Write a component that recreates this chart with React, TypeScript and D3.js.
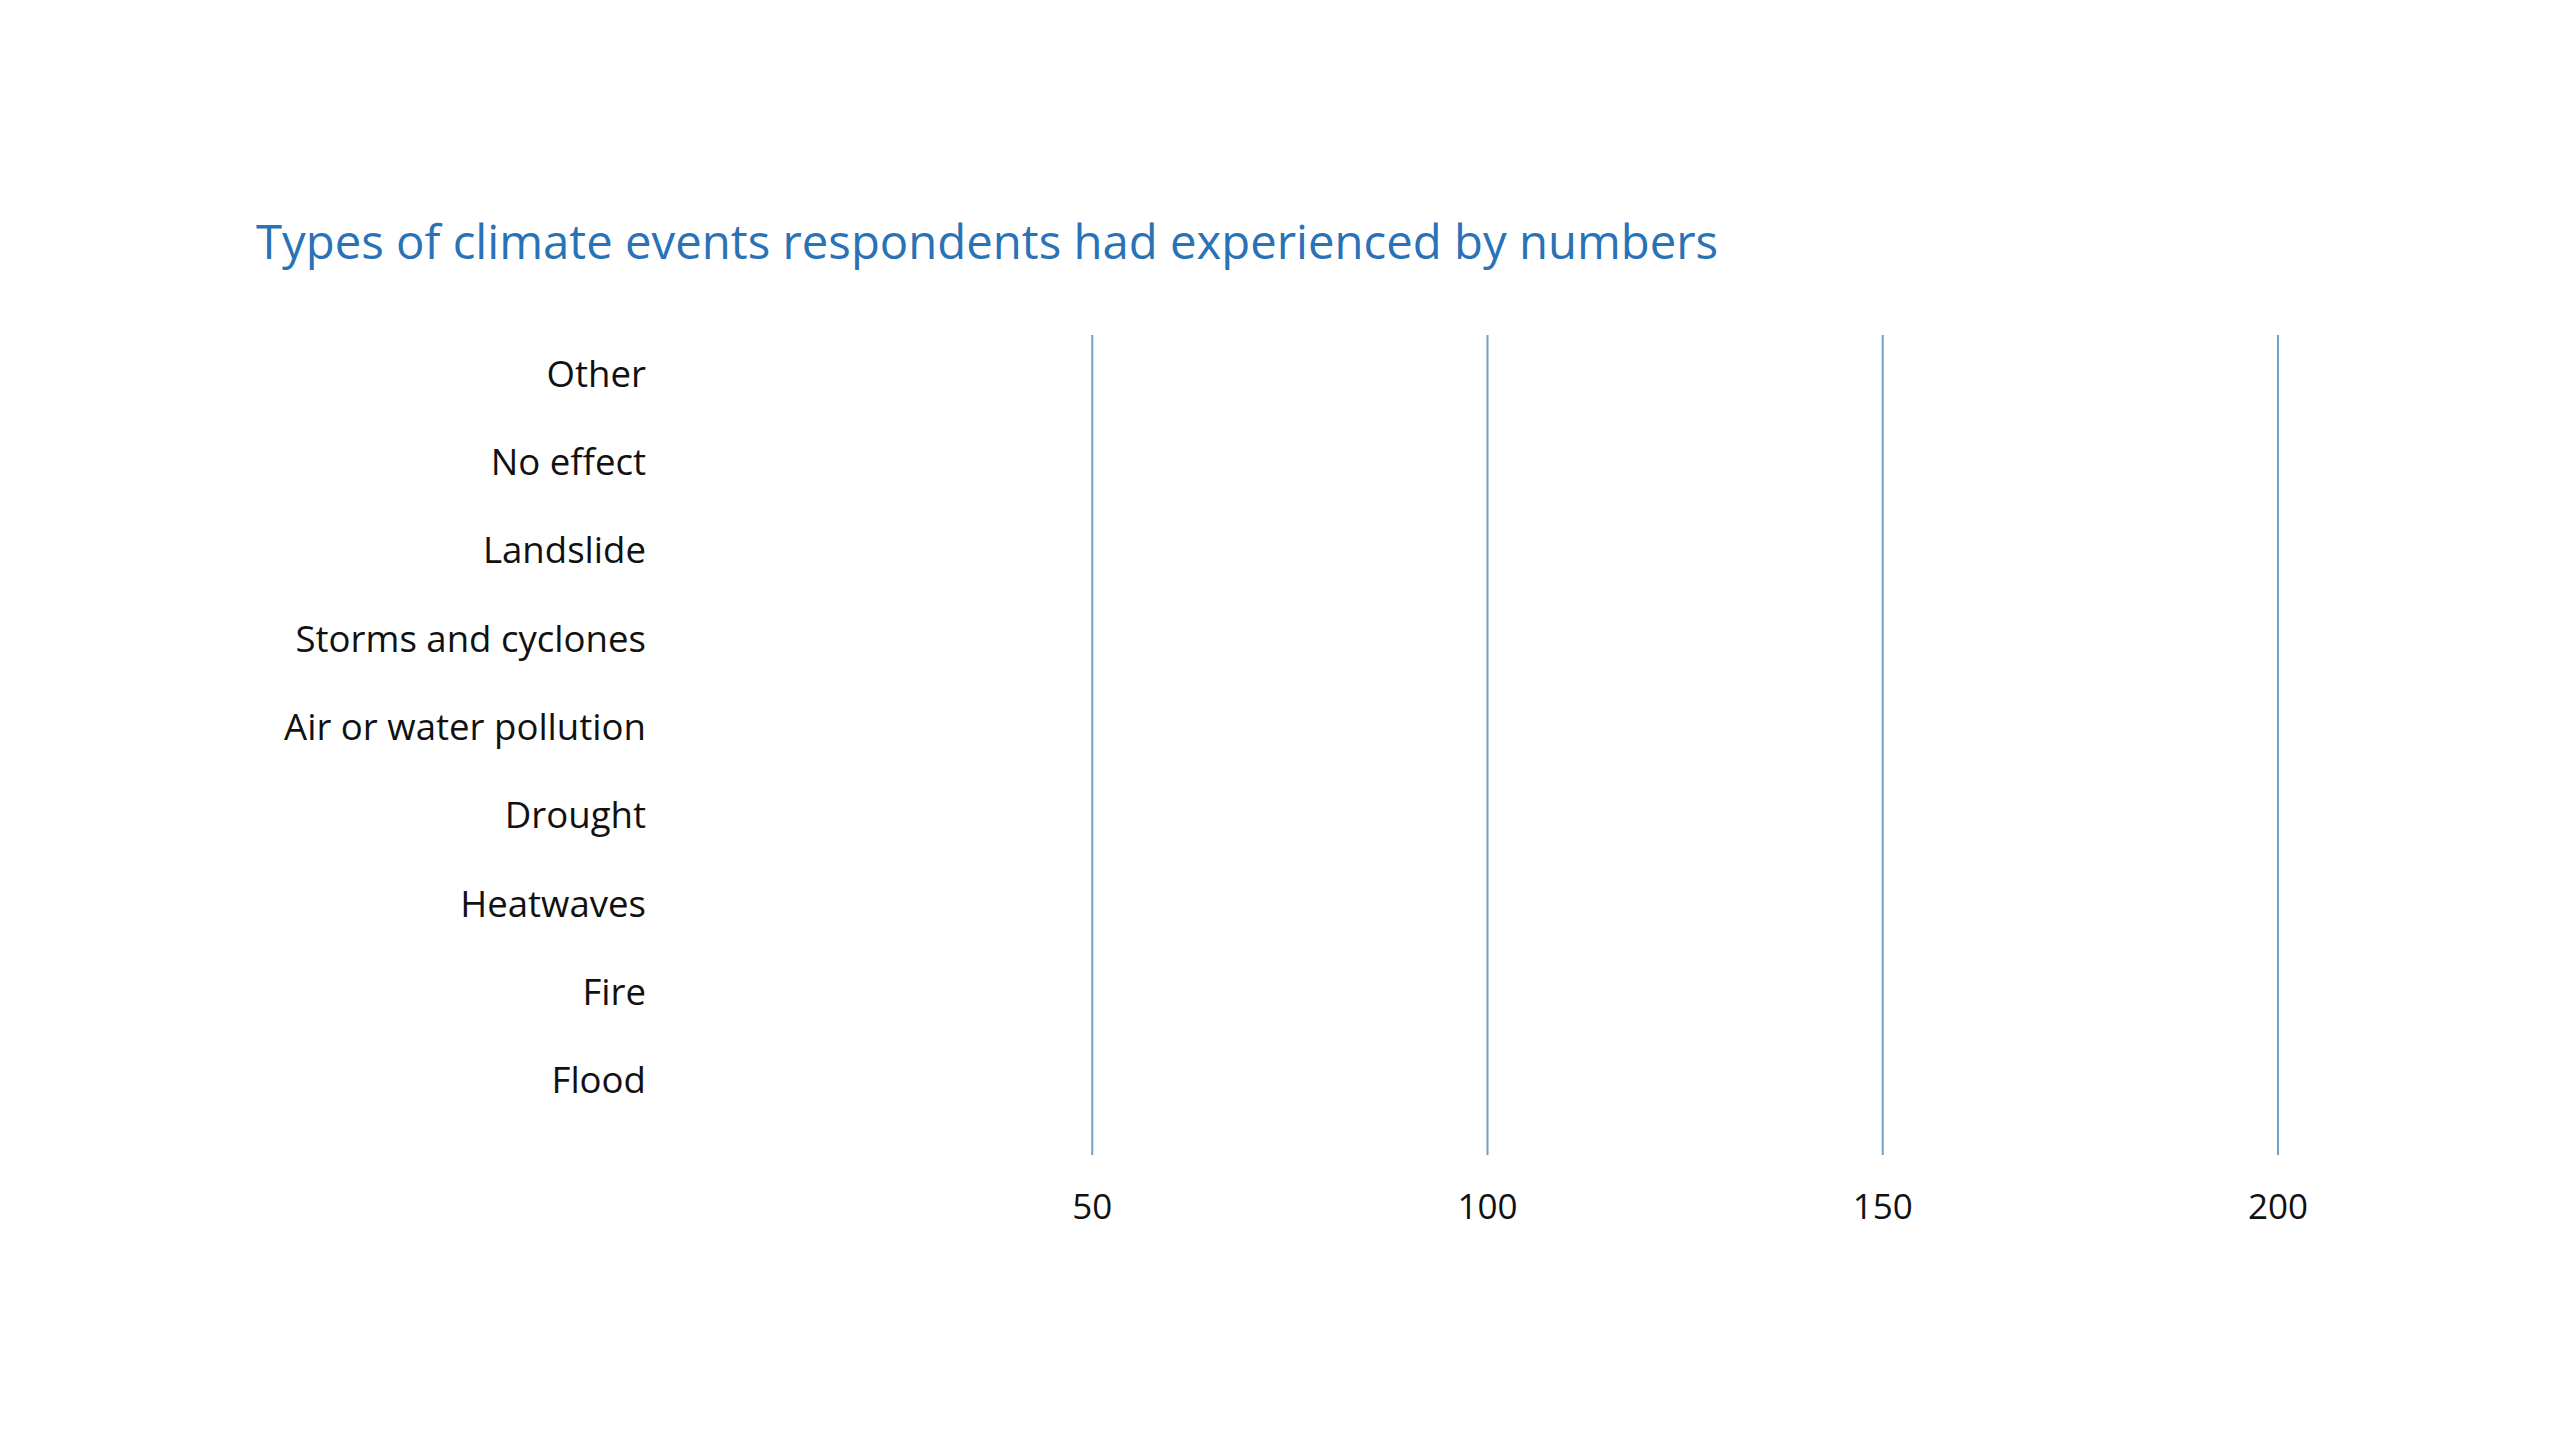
import React from "react";
import * as d3 from "d3";

const categories = [
  "Other",
  "No effect",
  "Landslide",
  "Storms and cyclones",
  "Air or water pollution",
  "Drought",
  "Heatwaves",
  "Fire",
  "Flood",
];
// No bars are visible in the reference: every count reads as zero.
const counts = [0, 0, 0, 0, 0, 0, 0, 0, 0];
const tickValues = [50, 100, 150, 200];
const title = "Types of climate events respondents had experienced by numbers";

const W = 2560;
const H = 1440;
const FONT = "'Open Sans', 'Noto Sans', sans-serif";

export default function App() {
  const x = d3.scaleLinear().domain([0, 200]).range([697, 2278]);
  const y = d3.scalePoint<string>().domain(categories).range([373.5, 1080]);
  const gridTop = 335;
  const gridBottom = 1155;
  const labelRight = 646;

  return (
    <svg
      width={W}
      height={H}
      viewBox={`0 0 ${W} ${H}`}
      style={{ position: "absolute", left: 0, top: 0, background: "#fff" }}
    >
      <rect x={0} y={0} width={W} height={H} fill="#ffffff" />
      <text x={256} y={259} fontFamily={FONT} fontSize={47.3} fill="#2a72b6">
        {title}
      </text>

      {tickValues.map((t) => (
        <g key={t}>
          <line
            x1={x(t)}
            x2={x(t)}
            y1={gridTop}
            y2={gridBottom}
            stroke="#72a0c4"
            strokeWidth={2}
          />
          <text
            x={x(t)}
            y={1219}
            textAnchor="middle"
            fontFamily={FONT}
            fontSize={35}
            fill="#111"
          >
            {t}
          </text>
        </g>
      ))}

      {categories.map((c, i) => (
        <g key={c}>
          <rect
            x={x(0)}
            y={(y(c) as number) - 30}
            width={Math.max(0, x(counts[i]) - x(0))}
            height={60}
            fill="#2a72b6"
          />
          <text
            x={labelRight}
            y={y(c) as number}
            dy="0.36em"
            textAnchor="end"
            fontFamily={FONT}
            fontSize={36.6}
            fill="#111"
          >
            {c}
          </text>
        </g>
      ))}
    </svg>
  );
}
